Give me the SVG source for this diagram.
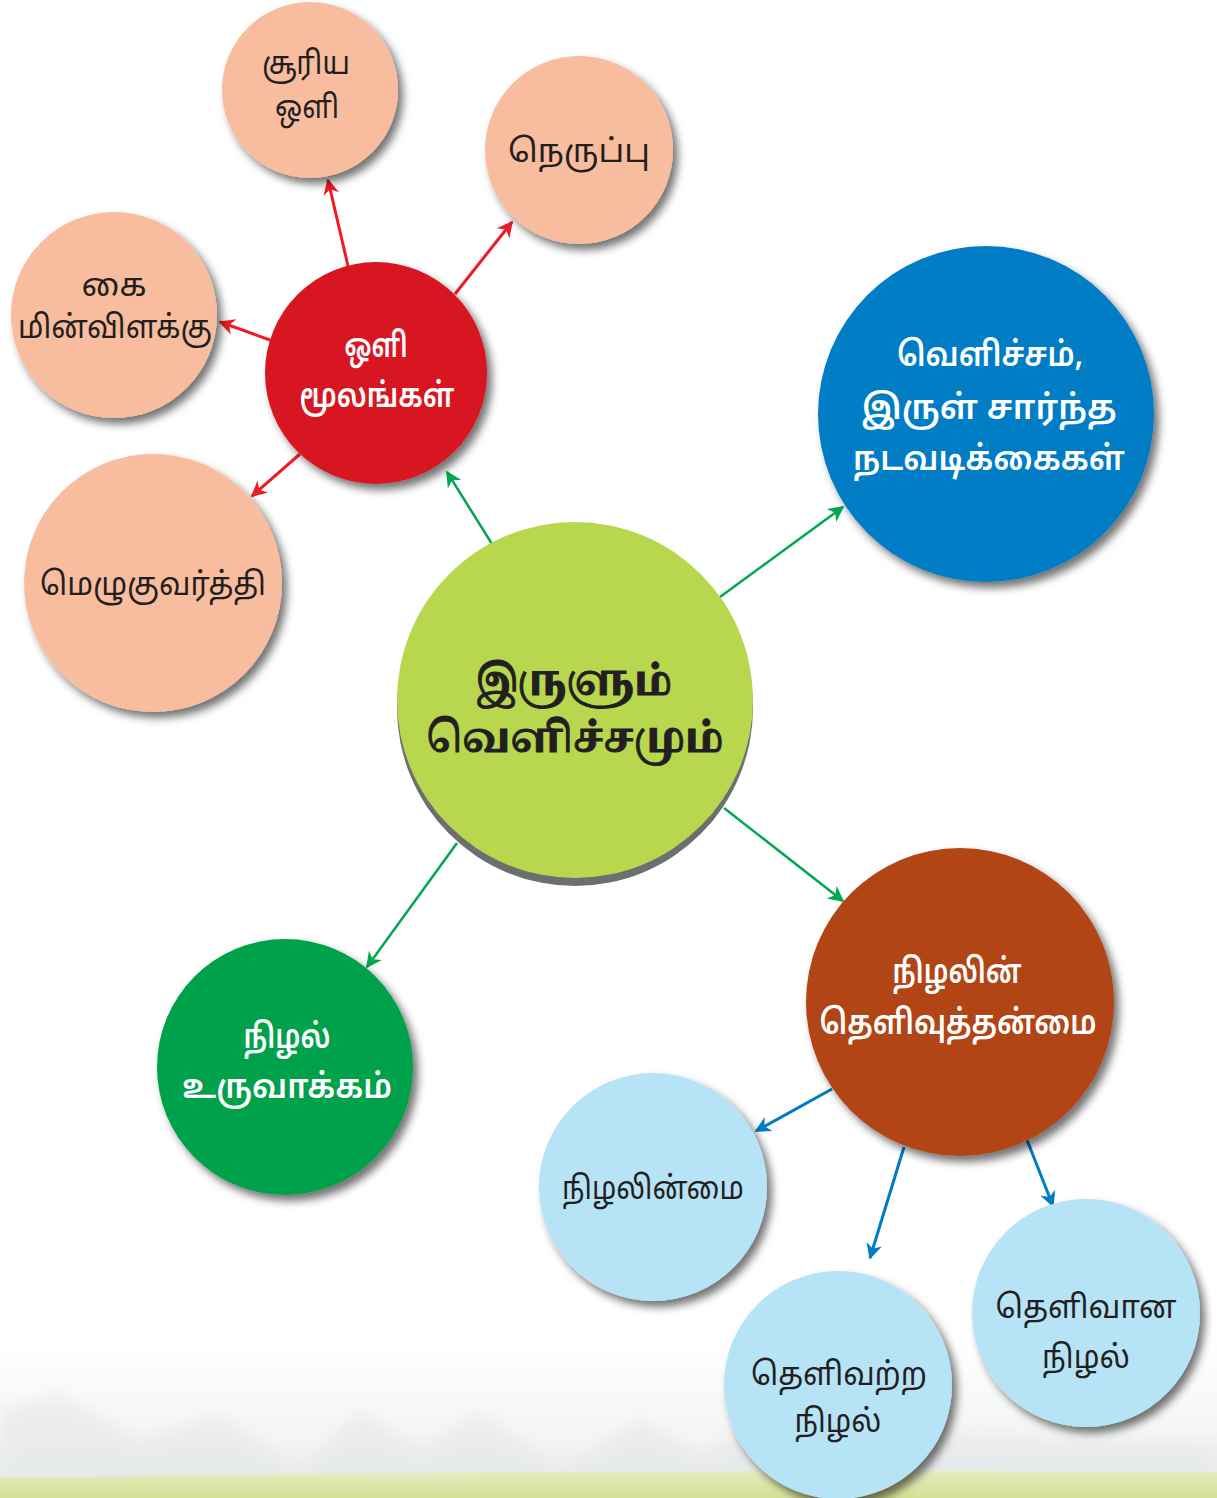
<svg xmlns="http://www.w3.org/2000/svg" width="1217" height="1498" viewBox="0 0 1217 1498">
<defs>
<style>
.t{font-family:"Noto Sans Tamil","Noto Sans","Liberation Sans",sans-serif;text-anchor:middle;}
.dk{fill:#231f20;font-size:32px;}
.wh{fill:#ffffff;font-size:34px;font-weight:600;}
.ttl{fill:#231f20;stroke:#231f20;stroke-width:1;font-size:41px;font-weight:bold;font-family:"Noto Serif Tamil","Noto Sans Tamil","Liberation Serif",serif;}
.peach{fill:#f8bd9e;}
.lb{fill:#b7e3f7;}
.red{stroke:#ed1c24;stroke-width:3;fill:none;}
.grn{stroke:#00a651;stroke-width:2.5;fill:none;}
.blu{stroke:#007cc3;stroke-width:3;fill:none;}
</style>
<filter id="sh" x="-20%" y="-20%" width="150%" height="150%">
<feDropShadow dx="5" dy="6" stdDeviation="4" flood-color="#000" flood-opacity="0.55"/>
</filter>
<filter id="blur" x="-10%" y="-10%" width="120%" height="120%">
<feGaussianBlur stdDeviation="8"/>
</filter>
<marker id="ar" viewBox="0 0 10 10" refX="9" refY="5" markerWidth="19" markerHeight="16" orient="auto" markerUnits="userSpaceOnUse">
<path d="M0,0 L10,5 L0,10 L3,5 Z" fill="#ed1c24"/>
</marker>
<marker id="ag" viewBox="0 0 10 10" refX="9" refY="5" markerWidth="19" markerHeight="16" orient="auto" markerUnits="userSpaceOnUse">
<path d="M0,0 L10,5 L0,10 L3,5 Z" fill="#00a651"/>
</marker>
<marker id="ab" viewBox="0 0 10 10" refX="9" refY="5" markerWidth="19" markerHeight="16" orient="auto" markerUnits="userSpaceOnUse">
<path d="M0,0 L10,5 L0,10 L3,5 Z" fill="#007cc3"/>
</marker>
<linearGradient id="bg" x1="0" y1="0" x2="0" y2="1">
<stop offset="0" stop-color="#ffffff"/>
<stop offset="0.6" stop-color="#f4f5f5"/>
<stop offset="1" stop-color="#e8eaea"/>
</linearGradient>
<linearGradient id="grass" x1="0" y1="0" x2="0" y2="1">
<stop offset="0" stop-color="#e6edc4"/>
<stop offset="1" stop-color="#d3e191"/>
</linearGradient>
</defs>
<rect width="1217" height="1498" fill="#ffffff"/>
<g id="background">
<rect x="0" y="1340" width="1217" height="158" fill="url(#bg)"/>
<path d="M0,1410 L60,1395 L140,1440 L220,1415 L300,1470 L360,1410 L420,1450 L480,1412 L560,1470 L640,1420 L700,1455 L760,1425 L1217,1445 L1217,1498 L0,1498 Z" fill="#e4e7e7" opacity="0.6" filter="url(#blur)"/>
<path d="M0,1478 Q600,1468 1217,1472 L1217,1498 L0,1498 Z" fill="url(#grass)"/>
</g>
<g id="connectors">
<line class="red" x1="348" y1="266" x2="328" y2="180" marker-end="url(#ar)"/>
<line class="red" x1="455" y1="294" x2="512" y2="222" marker-end="url(#ar)"/>
<line class="red" x1="270" y1="340" x2="220" y2="322" marker-end="url(#ar)"/>
<line class="red" x1="300" y1="454" x2="252" y2="496" marker-end="url(#ar)"/>
<line class="grn" x1="492" y1="544" x2="447" y2="472" marker-end="url(#ag)"/>
<line class="grn" x1="720" y1="597" x2="843" y2="507" marker-end="url(#ag)"/>
<line class="grn" x1="724" y1="808" x2="843" y2="901" marker-end="url(#ag)"/>
<line class="grn" x1="457" y1="843" x2="367" y2="967" marker-end="url(#ag)"/>
<line class="blu" x1="832" y1="1089" x2="756" y2="1131" marker-end="url(#ab)"/>
<line class="blu" x1="904" y1="1147" x2="870" y2="1258" marker-end="url(#ab)"/>
<line class="blu" x1="1027" y1="1140" x2="1053" y2="1206" marker-end="url(#ab)"/>
</g>
<g id="n-suriya">
<circle cx="310" cy="90" r="88" class="peach" filter="url(#sh)"/>
<text class="t dk" x="306" y="74" textLength="88" lengthAdjust="spacingAndGlyphs">சூரிய</text>
<text class="t dk" x="307" y="118" textLength="64" lengthAdjust="spacingAndGlyphs">ஒளி</text>
</g>
<g id="n-neruppu">
<circle cx="579" cy="150" r="94" class="peach" filter="url(#sh)"/>
<text class="t dk" x="579" y="162" textLength="142" lengthAdjust="spacingAndGlyphs">நெருப்பு</text>
</g>
<g id="n-kai">
<circle cx="114" cy="315" r="103" class="peach" filter="url(#sh)"/>
<text class="t dk" x="114" y="296" textLength="65" lengthAdjust="spacingAndGlyphs">கை</text>
<text class="t dk" x="115" y="338" textLength="194" lengthAdjust="spacingAndGlyphs">மின்விளக்கு</text>
</g>
<g id="n-mezhugu">
<circle cx="153" cy="583" r="129" class="peach" filter="url(#sh)"/>
<text class="t dk" x="153" y="595" textLength="226" lengthAdjust="spacingAndGlyphs">மெழுகுவர்த்தி</text>
</g>
<g id="n-oli">
<circle cx="376" cy="373" r="111" fill="#d71920" filter="url(#sh)"/>
<text class="t wh" x="376" y="357" textLength="63" lengthAdjust="spacingAndGlyphs">ஒளி</text>
<text class="t wh" x="377" y="407" textLength="155" lengthAdjust="spacingAndGlyphs">மூலங்கள்</text>
</g>
<g id="n-center">
<circle cx="575" cy="708" r="178" fill="#6d6e70"/>
<circle cx="575" cy="700" r="178" fill="#b8d64e"/>
<text class="t ttl" x="574" y="695" textLength="196" lengthAdjust="spacingAndGlyphs">இருளும்</text>
<text class="t ttl" x="575" y="752" textLength="297" lengthAdjust="spacingAndGlyphs">வெளிச்சமும்</text>
</g>
<g id="n-nadavadikkai">
<circle cx="986" cy="414" r="168" fill="#007dc5" filter="url(#sh)"/>
<text class="t wh" x="990" y="366" textLength="186" lengthAdjust="spacingAndGlyphs">வெளிச்சம்,</text>
<text class="t wh" x="989" y="419" textLength="255" lengthAdjust="spacingAndGlyphs">இருள் சார்ந்த</text>
<text class="t wh" x="989" y="470" textLength="272" lengthAdjust="spacingAndGlyphs">நடவடிக்கைகள்</text>
</g>
<g id="n-uruvakkam">
<circle cx="285" cy="1067" r="128" fill="#00a14b" filter="url(#sh)"/>
<text class="t wh" x="287" y="1048" textLength="87" lengthAdjust="spacingAndGlyphs">நிழல்</text>
<text class="t wh" x="287" y="1098" textLength="210" lengthAdjust="spacingAndGlyphs">உருவாக்கம்</text>
</g>
<g id="n-thelivu">
<circle cx="960" cy="1002" r="154" fill="#b24513" filter="url(#sh)"/>
<text class="t wh" x="957" y="983" textLength="129" lengthAdjust="spacingAndGlyphs">நிழலின்</text>
<text class="t wh" x="958" y="1034" textLength="277" lengthAdjust="spacingAndGlyphs">தெளிவுத்தன்மை</text>
</g>
<g id="n-nizhalinmai">
<circle cx="653" cy="1187" r="114" class="lb" filter="url(#sh)"/>
<text class="t dk" x="653" y="1199" textLength="182" lengthAdjust="spacingAndGlyphs">நிழலின்மை</text>
</g>
<g id="n-thelivatra">
<circle cx="838" cy="1385" r="114" class="lb" filter="url(#sh)"/>
<text class="t dk" x="839" y="1385" textLength="176" lengthAdjust="spacingAndGlyphs">தெளிவற்ற</text>
<text class="t dk" x="838" y="1432" textLength="87" lengthAdjust="spacingAndGlyphs">நிழல்</text>
</g>
<g id="n-thelivana">
<circle cx="1086" cy="1313" r="114" class="lb" filter="url(#sh)"/>
<text class="t dk" x="1086" y="1318" textLength="181" lengthAdjust="spacingAndGlyphs">தெளிவான</text>
<text class="t dk" x="1086" y="1368" textLength="88" lengthAdjust="spacingAndGlyphs">நிழல்</text>
</g>
</svg>
